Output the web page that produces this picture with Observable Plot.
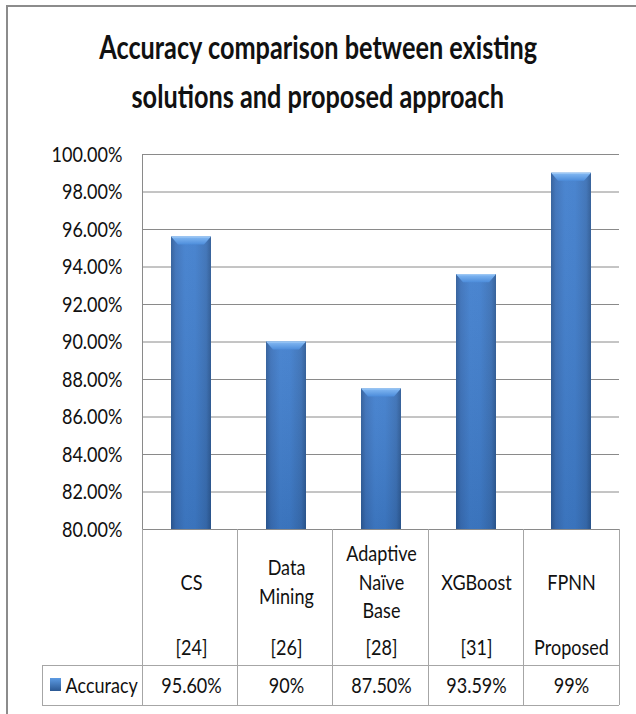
<!DOCTYPE html>
<html>
<head>
<meta charset="utf-8">
<script src="https://cdn.jsdelivr.net/npm/d3@7"></script>
<script src="https://cdn.jsdelivr.net/npm/@observablehq/plot@0.6"></script>
<style>
  html, body { margin: 0; padding: 0; background: #fff; }
  #chart { position: relative; width: 636px; height: 714px; overflow: hidden; font-family: Lato, "Open Sans", sans-serif; color: #111; }
  #title { position: relative; width: 636px; height: 130px; }
  .tline { position: absolute; left: 0; width: 636px; text-align: center; font-weight: 700; font-size: 32px; line-height: 49px; white-space: nowrap; }
  .tline span { display: inline-block; transform: scaleX(0.79); transform-origin: center; }
  #frame { position: absolute; left: 6px; top: 5px; width: 800px; height: 900px; border-left: 2px solid #8c8c8c; border-top: 2px solid #8c8c8c; pointer-events: none; }
  svg { display: block; }
</style>
</head>
<body>
<div id="chart">
  <div id="title">
    <div class="tline" style="top:22px"><span>Accuracy comparison between existing</span></div>
    <div class="tline" style="top:71px"><span>solutions and proposed approach</span></div>
  </div>
  <div id="frame"></div>
</div>
<script>
// Methods compared, with their reference tags and reported accuracy (%)
const categories = ["CS", "Data Mining", "Adaptive Naïve Base", "XGBoost", "FPNN"];
const categoryLines = ["CS", "Data\nMining", "Adaptive\nNaïve\nBase", "XGBoost", "FPNN"];
const references = ["[24]", "[26]", "[28]", "[31]", "Proposed"];
const accuracy = [95.60, 90, 87.50, 93.59, 99];
const accuracyLabels = ["95.60%", "90%", "87.50%", "93.59%", "99%"];
const seriesName = "Accuracy";
const yTicks = [80, 82, 84, 86, 88, 90, 92, 94, 96, 98, 100];

const rows = categories.map((c, i) => ({
  category: c,
  lines: categoryLines[i],
  ref: references[i],
  accuracy: accuracy[i],
  label: accuracyLabels[i]
}));

const PAD = 0.58;           // gap between bars as a share of each column
const ROW1 = 136;           // height of the category row of the data table
const ROW2 = 40;            // height of the values row
const LEGEND_LEFT = 42;     // left edge of the legend cell

// Gradients and the soft shadow under the columns
function defs() {
  const d = d3.create("svg:defs");
  const body = d.append("linearGradient").attr("id", "barBody").attr("x1", 0).attr("x2", 1).attr("y1", 0).attr("y2", 0);
  [[0, "#2d5b98"], [0.12, "#3a70b9"], [0.35, "#407ecd"], [0.6, "#3f7dcc"], [0.88, "#396fb5"], [1, "#2c5994"]]
    .forEach(([o, c]) => body.append("stop").attr("offset", o).attr("stop-color", c));
  const shade = d.append("linearGradient").attr("id", "barShade").attr("x1", 0).attr("x2", 0).attr("y1", 0).attr("y2", 1);
  shade.append("stop").attr("offset", 0).attr("stop-color", "#fff").attr("stop-opacity", 0.06);
  shade.append("stop").attr("offset", 1).attr("stop-color", "#000").attr("stop-opacity", 0.08);
  const cap = d.append("linearGradient").attr("id", "barCap").attr("x1", 0).attr("x2", 0).attr("y1", 0).attr("y2", 1);
  cap.append("stop").attr("offset", 0).attr("stop-color", "#86bbf4");
  cap.append("stop").attr("offset", 1).attr("stop-color", "#4d8ddb");
  const key = d.append("linearGradient").attr("id", "keyFill").attr("x1", 0).attr("x2", 0).attr("y1", 0).attr("y2", 1);
  key.append("stop").attr("offset", 0).attr("stop-color", "#5d9be3");
  key.append("stop").attr("offset", 1).attr("stop-color", "#2b5893");
  const f = d.append("filter").attr("id", "barShadow").attr("x", "-20%").attr("y", "-5%").attr("width", "140%").attr("height", "115%");
  f.append("feDropShadow").attr("dx", 0).attr("dy", 1.5).attr("stdDeviation", 1.4).attr("flood-color", "#000").attr("flood-opacity", 0.35);
  return d.node();
}

function bandwidthOf(x) {
  return typeof x.bandwidth === "function" ? x.bandwidth() : x.bandwidth;
}

// Bevelled cap on top of each column
function bevels(index, scales) {
  const {x, y} = scales;
  const bw = bandwidthOf(x);
  const g = d3.create("svg:g");
  rows.forEach(r => {
    const x0 = x(r.category), x1 = x0 + bw, yt = y(r.accuracy);
    g.append("path")
      .attr("d", `M${x0},${yt}L${x1},${yt}L${x1 - 7},${yt + 8}L${x0 + 7},${yt + 8}Z`)
      .attr("fill", "url(#barCap)");
    g.append("line")
      .attr("x1", x0 + 1).attr("x2", x1 - 1).attr("y1", yt + 0.5).attr("y2", yt + 0.5)
      .attr("stroke", "#a3ccf6").attr("stroke-width", 1);
  });
  return g.node();
}

// Data table grid under the plot, plus the y-axis line
function tableGrid(index, scales, values, dims) {
  const {width, height, marginLeft, marginRight, marginTop, marginBottom} = dims;
  const left = marginLeft, right = width - marginRight;
  const top = height - marginBottom;
  const step = (right - left) / categories.length;
  const g = d3.create("svg:g").attr("stroke", "#a6a6a6").attr("stroke-width", 1).attr("shape-rendering", "crispEdges");
  // axis line
  g.append("line").attr("x1", left).attr("x2", left).attr("y1", marginTop).attr("y2", top).attr("stroke", "#8a8a8a");
  // column dividers
  for (let i = 0; i <= categories.length; ++i) {
    const xx = left + i * step;
    g.append("line").attr("x1", xx).attr("x2", xx).attr("y1", top).attr("y2", top + ROW1 + ROW2);
  }
  g.append("line").attr("x1", LEGEND_LEFT).attr("x2", right).attr("y1", top + ROW1).attr("y2", top + ROW1);
  g.append("line").attr("x1", LEGEND_LEFT).attr("x2", right).attr("y1", top + ROW1 + ROW2).attr("y2", top + ROW1 + ROW2);
  g.append("line").attr("x1", LEGEND_LEFT).attr("x2", LEGEND_LEFT).attr("y1", top + ROW1).attr("y2", top + ROW1 + ROW2);
  // legend key
  g.append("rect").attr("x", LEGEND_LEFT + 8).attr("y", top + ROW1 + ROW2 / 2 - 7).attr("width", 11).attr("height", 13)
    .attr("fill", "url(#keyFill)").attr("stroke", "none");
  return g.node();
}

const plot = Plot.plot({
  width: 636,
  height: 584,
  marginTop: 24,
  marginBottom: 185,
  marginLeft: 142,
  marginRight: 17,
  style: {background: "transparent", fontFamily: "Lato, 'Open Sans', sans-serif", fontSize: "22px", color: "#111", overflow: "visible"},
  x: {domain: categories, paddingInner: PAD, paddingOuter: PAD / 2, axis: null},
  y: {domain: [80, 100], ticks: yTicks, tickFormat: d => d.toFixed(2) + "%", tickSize: 0, tickPadding: 20, label: null},
  marks: [
    defs,
    Plot.ruleY(yTicks, {stroke: "#8a8a8a", strokeWidth: 1, strokeOpacity: 1}),
    tableGrid,
    Plot.barY(rows, {x: "category", y1: 80, y2: "accuracy", fill: "url(#barBody)", style: "filter:url(#barShadow)"}),
    Plot.barY(rows, {x: "category", y1: 80, y2: "accuracy", fill: "url(#barShade)"}),
    bevels,
    Plot.text(rows, {x: "category", text: "lines", frameAnchor: "bottom", dy: 51, lineAnchor: "middle", lineHeight: 1.28, fill: "#111"}),
    Plot.text(rows, {x: "category", text: "ref", frameAnchor: "bottom", dy: 118, lineAnchor: "middle", fill: "#111"}),
    Plot.text(rows, {x: "category", text: "label", frameAnchor: "bottom", dy: 156, lineAnchor: "middle", fill: "#111"}),
    Plot.text([seriesName], {text: d => d, frameAnchor: "bottom-left", dx: 65 - 142, dy: 156, textAnchor: "start", lineAnchor: "middle", fill: "#111"})
  ]
});

// Narrow the lettering to the condensed face used throughout the chart
plot.querySelectorAll("text").forEach(t => {
  const tr = t.getAttribute("transform");
  if (tr) t.setAttribute("transform", tr + " scale(0.82,1)");
});

document.getElementById("chart").insertBefore(plot, document.getElementById("frame"));
</script>
</body>
</html>
